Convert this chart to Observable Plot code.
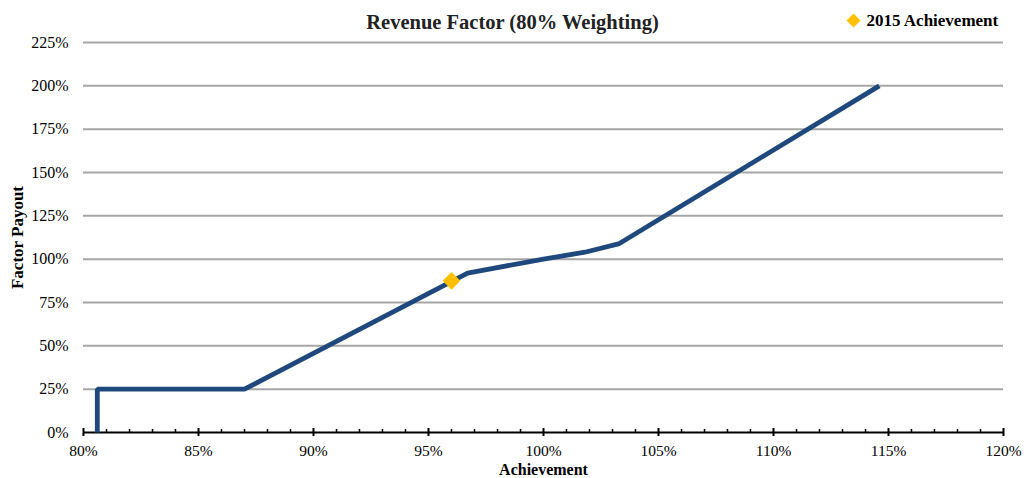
<!DOCTYPE html>
<html>
<head>
<meta charset="utf-8">
<script src="https://cdn.jsdelivr.net/npm/d3@7"></script>
<script src="https://cdn.jsdelivr.net/npm/@observablehq/plot@0.6"></script>
<style>
  html, body { margin: 0; padding: 0; background: #fff; }
</style>
</head>
<body>
<div id="chart"></div>
<script>
// Data
const achievement = [80.6, 80.6, 87.0, 96.7, 100.0, 101.8, 103.3, 114.6];
const payout      = [0,    25,   25,   92,   100,   104,   109,   200];
const achieved2015 = [{a: 96.0, p: 87.5}];
const yTicks = [0, 25, 50, 75, 100, 125, 150, 175, 200, 225];
const xMajor = [80, 85, 90, 95, 100, 105, 110, 115, 120];
const xMinor = d3.range(81, 120).filter(d => d % 5 !== 0);
const titleText = "Revenue Factor (80% Weighting)";
const legendText = "2015 Achievement";
const xLabel = "Achievement";
const yLabel = "Factor Payout";

const lineData = achievement.map((a, i) => ({a, p: payout[i]}));
const pct = d => d + "%";
const blue = "#1f497d";
const gold = "#ffc000";

const chart = Plot.plot({
  width: 1024,
  height: 478,
  marginLeft: 83,
  marginRight: 21,
  marginTop: 42,
  marginBottom: 46,
  style: {fontFamily: "'Liberation Serif', 'Times New Roman', serif", fontSize: "16px", color: "#000", background: "#fff"},
  x: {domain: [80, 120]},
  y: {domain: [0, 225]},
  marks: [
    Plot.ruleY(yTicks.filter(d => d > 0), {stroke: "#a6a6a6", strokeWidth: 2}),
    Plot.axisY(yTicks, {tickSize: 0, tickPadding: 15, tickFormat: pct, label: null, fontSize: 16}),
    Plot.axisX(xMajor, {tickSize: 0, tickPadding: 12, tickFormat: pct, label: null, fontSize: 15.5}),
    Plot.ruleY([0], {stroke: "#000", strokeWidth: 2}),
    Plot.ruleX(xMajor, {x: d => d, insetTop: 386, insetBottom: -4, stroke: "#000", strokeWidth: 2}),
    Plot.ruleX(xMinor, {x: d => d, insetTop: 387, insetBottom: 0, stroke: "#000", strokeWidth: 1.5}),
    Plot.line(lineData, {x: "a", y: "p", stroke: blue, strokeWidth: 4.8, strokeLinejoin: "miter", strokeLinecap: "butt"}),
    Plot.dot(achieved2015, {x: "a", y: "p", symbol: "diamond2", r: 8, fill: gold, stroke: null}),
    Plot.text([titleText], {frameAnchor: "top", dx: -31, dy: -20, lineAnchor: "middle", fontSize: 20.5, fontWeight: "bold", fill: "#222"}),
    Plot.dot([legendText], {frameAnchor: "top-right", dx: -150, dy: -22, symbol: "diamond2", r: 6.3, fill: gold, stroke: null}),
    Plot.text([legendText], {frameAnchor: "top-right", dx: -137, dy: -22, textAnchor: "start", lineAnchor: "middle", fontSize: 17, fontWeight: "bold"}),
    Plot.text([xLabel], {frameAnchor: "bottom", dy: 37, lineAnchor: "middle", fontSize: 16, fontWeight: "bold"}),
    Plot.text([yLabel], {frameAnchor: "left", dx: -66, rotate: -90, textAnchor: "middle", lineAnchor: "middle", fontSize: 17, fontWeight: "bold"})
  ]
});
document.getElementById("chart").appendChild(chart);
</script>
</body>
</html>
